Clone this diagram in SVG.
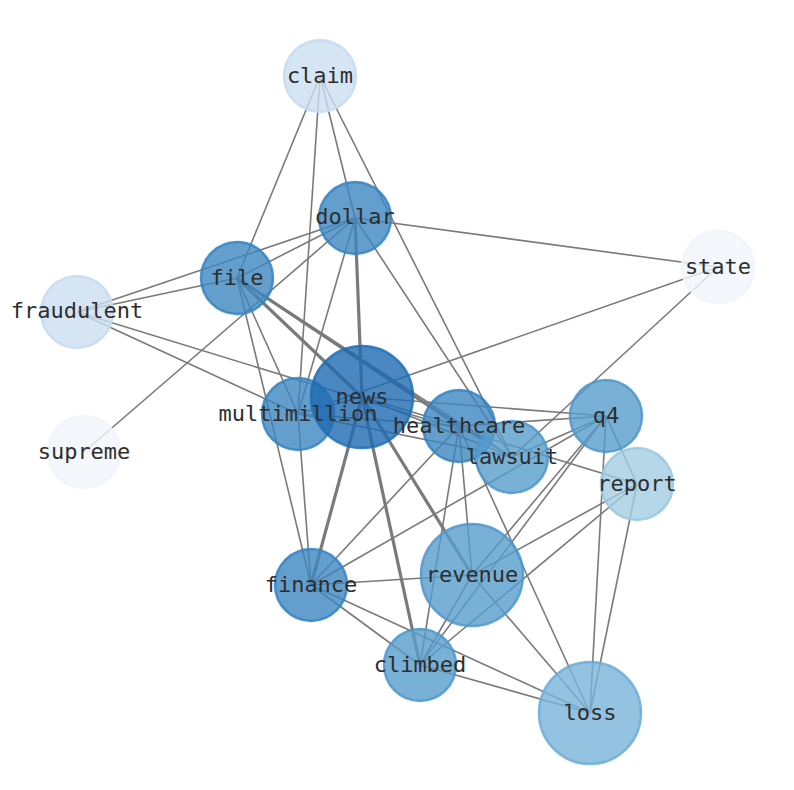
<svg xmlns="http://www.w3.org/2000/svg" width="794" height="790" viewBox="0 0 794 790">
<style>
.e{stroke:#7a7a7a;stroke-width:1.6;fill:none}
.t{stroke-width:3.2}
circle{stroke-width:2.5;fill-opacity:0.8;stroke-opacity:0.85}
text{font-family:"DejaVu Sans Mono","Liberation Mono",monospace;font-size:22px;fill:#2e2e2e;text-anchor:middle;dominant-baseline:central}
.c1{fill:#1e69b0;stroke:#1e6fb5}
.c2{fill:#3c86c1;stroke:#3384c3}
.c3{fill:#569ccc;stroke:#4c97cc}
.c4{fill:#78b4d8;stroke:#6aacd6}
.c5{fill:#a3cde2;stroke:#9ac8e0}
.c6{fill:#ccdff1;stroke:#c5dbf0}
.c7{fill:#f1f6fd;stroke:#edf4fc}
</style>
<rect width="794" height="790" fill="#fff"/>
<g id="edges">
<line class="e" x1="320" y1="76" x2="237" y2="278"/>
<line class="e" x1="320" y1="76" x2="298" y2="414"/>
<line class="e" x1="320" y1="76" x2="355" y2="218"/>
<line class="e" x1="320" y1="76" x2="512" y2="457"/>
<line class="e" x1="355" y1="218" x2="718" y2="267"/>
<line class="e" x1="355" y1="218" x2="237" y2="278"/>
<line class="e" x1="355" y1="218" x2="77" y2="312"/>
<line class="e" x1="355" y1="218" x2="84" y2="452"/>
<line class="e" x1="355" y1="218" x2="298" y2="414"/>
<line class="e t" x1="355" y1="218" x2="362" y2="397"/>
<line class="e" x1="355" y1="218" x2="512" y2="457"/>
<line class="e" x1="237" y1="278" x2="77" y2="312"/>
<line class="e" x1="237" y1="278" x2="298" y2="414"/>
<line class="e" x1="237" y1="278" x2="311" y2="585"/>
<line class="e t" x1="237" y1="278" x2="362" y2="397"/>
<line class="e t" x1="237" y1="278" x2="459" y2="426"/>
<line class="e" x1="237" y1="278" x2="512" y2="457"/>
<line class="e" x1="77" y1="312" x2="298" y2="414"/>
<line class="e" x1="77" y1="312" x2="637" y2="484"/>
<line class="e" x1="298" y1="414" x2="718" y2="267"/>
<line class="e" x1="298" y1="414" x2="362" y2="397"/>
<line class="e" x1="298" y1="414" x2="311" y2="585"/>
<line class="e" x1="298" y1="414" x2="459" y2="426"/>
<line class="e" x1="298" y1="414" x2="512" y2="457"/>
<line class="e t" x1="362" y1="397" x2="311" y2="585"/>
<line class="e t" x1="362" y1="397" x2="420" y2="665"/>
<line class="e t" x1="362" y1="397" x2="472" y2="575"/>
<line class="e" x1="362" y1="397" x2="606" y2="416"/>
<line class="e" x1="362" y1="397" x2="459" y2="426"/>
<line class="e" x1="362" y1="397" x2="512" y2="457"/>
<line class="e" x1="459" y1="426" x2="606" y2="416"/>
<line class="e" x1="459" y1="426" x2="311" y2="585"/>
<line class="e" x1="459" y1="426" x2="420" y2="665"/>
<line class="e" x1="459" y1="426" x2="472" y2="575"/>
<line class="e" x1="459" y1="426" x2="590" y2="713"/>
<line class="e" x1="459" y1="426" x2="512" y2="457"/>
<line class="e" x1="512" y1="457" x2="718" y2="267"/>
<line class="e" x1="512" y1="457" x2="606" y2="416"/>
<line class="e" x1="606" y1="416" x2="311" y2="585"/>
<line class="e" x1="606" y1="416" x2="420" y2="665"/>
<line class="e" x1="606" y1="416" x2="472" y2="575"/>
<line class="e" x1="606" y1="416" x2="590" y2="713"/>
<line class="e" x1="606" y1="416" x2="637" y2="484"/>
<line class="e" x1="637" y1="484" x2="472" y2="575"/>
<line class="e" x1="637" y1="484" x2="420" y2="665"/>
<line class="e" x1="637" y1="484" x2="590" y2="713"/>
<line class="e" x1="311" y1="585" x2="472" y2="575"/>
<line class="e" x1="311" y1="585" x2="420" y2="665"/>
<line class="e" x1="311" y1="585" x2="590" y2="713"/>
<line class="e" x1="472" y1="575" x2="420" y2="665"/>
<line class="e" x1="472" y1="575" x2="590" y2="713"/>
<line class="e" x1="420" y1="665" x2="590" y2="713"/>
</g>
<g id="claim"><circle class="c6" cx="320" cy="76" r="36"/><text x="320" y="75">claim</text></g>
<g id="dollar"><circle class="c2" cx="355" cy="218" r="36"/><text x="355" y="216">dollar</text></g>
<g id="file"><circle class="c2" cx="237" cy="278" r="36"/><text x="237" y="277">file</text></g>
<g id="fraudulent"><circle class="c6" cx="77" cy="312" r="36"/><text x="77" y="310">fraudulent</text></g>
<g id="state"><circle class="c7" cx="718" cy="267" r="36"/><text x="718" y="266">state</text></g>
<g id="supreme"><circle class="c7" cx="84" cy="452" r="36"/><text x="84" y="451">supreme</text></g>
<g id="multimillion"><circle class="c2" cx="298" cy="414" r="36"/></g>
<g id="news"><circle class="c1" cx="362" cy="397" r="51"/><text x="362" y="396">news</text></g>
<g id="healthcare"><circle class="c2" cx="459" cy="426" r="36"/></g>
<g id="lawsuit"><circle class="c3" cx="512" cy="457" r="36"/></g>
<g id="q4"><circle class="c3" cx="606" cy="416" r="36"/><text x="606" y="415">q4</text></g>
<g id="report"><circle class="c5" cx="637" cy="484" r="36"/><text x="637" y="483">report</text></g>
<g id="finance"><circle class="c2" cx="311" cy="585" r="36"/><text x="311" y="584">finance</text></g>
<g id="revenue"><circle class="c3" cx="472" cy="575" r="51"/><text x="472" y="574">revenue</text></g>
<g id="climbed"><circle class="c3" cx="420" cy="665" r="36"/><text x="420" y="664">climbed</text></g>
<g id="loss"><circle class="c4" cx="590" cy="713" r="51"/><text x="590" y="712">loss</text></g>
<g id="labels">
<text x="298" y="413">multimillion</text>
<text x="459" y="425">healthcare</text>
<text x="512" y="456">lawsuit</text>
</g>
</svg>
